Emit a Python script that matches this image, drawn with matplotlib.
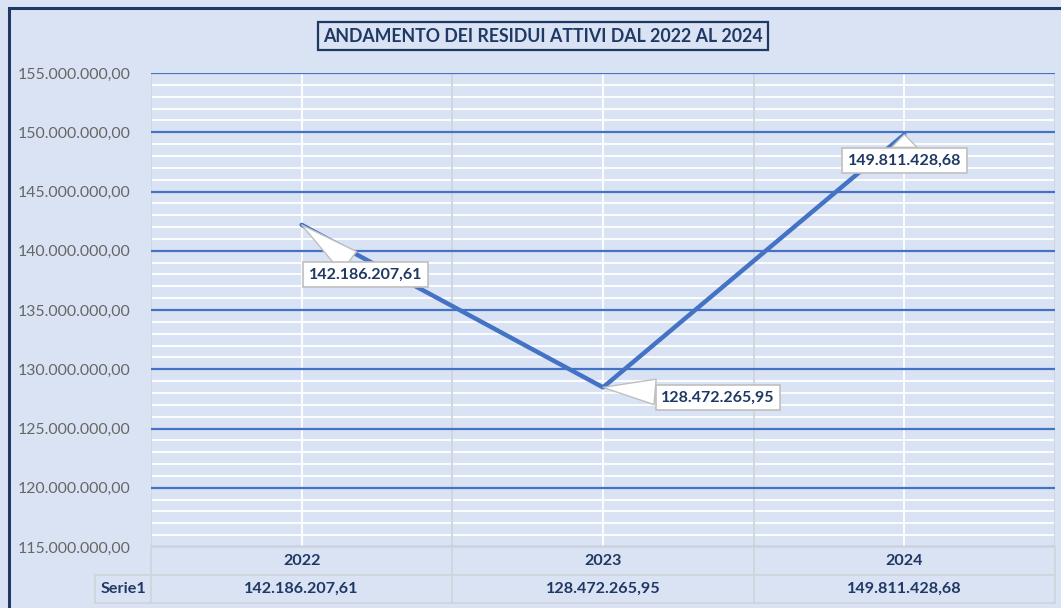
# Andamento dei residui attivi 2022-2024
import matplotlib.pyplot as plt
from matplotlib.patches import Rectangle
from matplotlib.lines import Line2D

# Data
years = ["2022", "2023", "2024"]
values = [142186207.61, 128472265.95, 149811428.68]
series_name = "Serie1"
title = "ANDAMENTO DEI RESIDUI ATTIVI DAL 2022 AL 2024"

navy = "#1F3864"
bg = "#DAE3F3"
blue = "#4472C4"
grid_gray = "#D0D4DC"

plt.rcParams["font.family"] = ["Lato", "DejaVu Sans"]


def it_fmt(v):
    # Italian style: 142.186.207,61
    s = f"{v:,.2f}"
    return s.replace(",", "X").replace(".", ",").replace("X", ".")


W, H = 1061, 608
fig = plt.figure(figsize=(W / 100, H / 100), dpi=100, facecolor=bg)

# outer border (left and top visible)
fig.patches.append(Rectangle((9 / W, -0.1), 1.2, 1 - 8 / H + 0.1, transform=fig.transFigure,
                             fill=False, edgecolor=navy, linewidth=2.2))

ax = fig.add_axes([151 / W, 1 - 547 / H, (1055 - 151) / W, (547 - 73) / H])
ax.set_facecolor(bg)
x = list(range(len(years)))
ax.set_xlim(-0.5, len(years) - 0.5)
ax.set_ylim(115e6, 155e6)

# gridlines
for yv in range(115, 156):
    if yv % 5 == 0:
        ax.axhline(yv * 1e6, color=blue, lw=1.6, zorder=1)
    else:
        ax.axhline(yv * 1e6, color="white", lw=1.3, zorder=0.5)
for xi in x:
    ax.axvline(xi, color="white", lw=1.3, zorder=0.6)
for xb in [-0.5, 0.5, 1.5, 2.5]:
    ax.axvline(xb, color=grid_gray, lw=1.3, zorder=0.7)
ax.axhline(115e6, color=grid_gray, lw=1.3, zorder=1.1)

ax.plot(x, values, color=blue, lw=3.2, solid_capstyle="round", zorder=3)

for s in ax.spines.values():
    s.set_visible(False)
ax.set_xticks([])
ax.set_yticks([v * 1e6 for v in range(115, 156, 5)])
ax.set_yticklabels([it_fmt(v * 1e6) for v in range(115, 156, 5)])
ax.tick_params(axis="y", length=0, pad=15, labelsize=11.4, labelcolor="#666666")

# callout labels
offsets = [(64, -50), (115, -10), (0, -26)]
for xi, v, (dx, dy) in zip(x, values, offsets):
    ax.annotate(it_fmt(v), xy=(xi, v), xytext=(dx, dy), textcoords="offset pixels",
                ha="center", va="center", fontsize=11.5, fontweight="bold", color=navy,
                bbox=dict(boxstyle="square,pad=0.35", fc="white", ec="#BFBFBF", lw=1.2),
                arrowprops=dict(arrowstyle="wedge,tail_width=1.6,shrink_factor=0.5",
                                fc="white", ec="#BFBFBF", lw=1.0, shrinkA=0, shrinkB=0),
                zorder=5)

# data table below the plot
tab = fig.add_axes([151 / W, 1 - 603 / H, (1055 - 151) / W, (603 - 547) / H])
tab.set_xlim(-0.5, len(years) - 0.5)
tab.set_ylim(0, 2)
tab.axis("off")
left_cell = -0.5 - (151 - 95) / ((1055 - 151) / len(years))
for yl in [0, 1, 2]:
    x0 = left_cell if yl < 2 else -0.5
    tab.add_line(Line2D([x0, 2.5], [yl, yl], color=grid_gray, lw=1.3, clip_on=False))
for xb in [-0.5, 0.5, 1.5, 2.5]:
    tab.add_line(Line2D([xb, xb], [0, 2], color=grid_gray, lw=1.3, clip_on=False))
tab.add_line(Line2D([left_cell, left_cell], [0, 1], color=grid_gray, lw=1.3, clip_on=False))
for xi, yr, v in zip(x, years, values):
    tab.text(xi, 1.5, yr, ha="center", va="center", fontsize=11.6, fontweight="bold", color=navy)
    tab.text(xi, 0.5, it_fmt(v), ha="center", va="center", fontsize=11.6, fontweight="bold", color=navy)
tab.text((left_cell - 0.5) / 2, 0.5, series_name, ha="center", va="center", fontsize=11.6,
         fontweight="bold", color=navy, clip_on=False)

# title box
fig.text(543 / W, 1 - 36 / H, title, ha="center", va="center", fontsize=12.8,
         fontweight="bold", color=navy,
         bbox=dict(boxstyle="square,pad=0.3", fc=bg, ec=navy, lw=1.6))

fig.savefig("out.png", dpi=100, facecolor=bg)
